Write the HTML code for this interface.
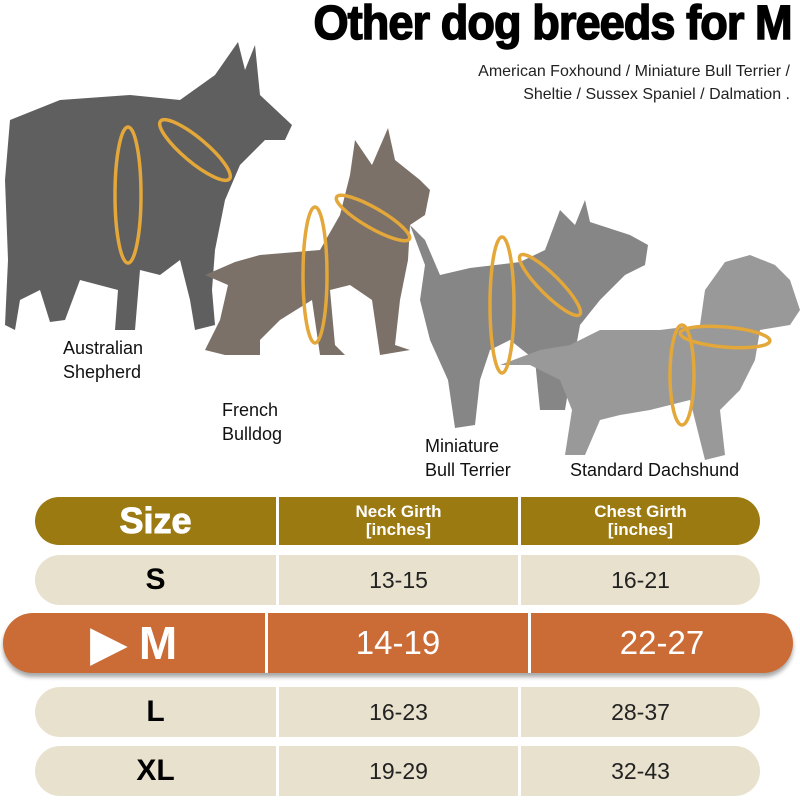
<!DOCTYPE html>
<html><head><meta charset="utf-8"><style>
body{margin:0;width:800px;height:800px;background:#fff;overflow:hidden;position:relative;font-family:"Liberation Sans",sans-serif}
.t{position:absolute;white-space:nowrap}
.row{position:absolute;display:flex;border-radius:26px;overflow:hidden}
.row div{display:flex;align-items:center;justify-content:center;text-align:center}
</style></head><body>
<svg width="800" height="490" style="position:absolute;left:0;top:0">
<polygon fill="#5f5f5f" points="10,120 60,100 130,95 180,100 215,75 238,42 245,70 255,45 260,95 292,125 285,140 265,140 255,150 240,165 225,200 215,250 212,290 215,325 195,330 190,300 180,260 160,275 140,270 135,330 115,330 118,290 80,280 65,320 50,322 40,290 20,300 15,330 5,325 8,260 5,180"/>
<polygon fill="#7b7168" points="205,275 235,262 260,255 320,250 340,215 350,175 355,140 372,165 388,128 395,160 420,180 430,190 425,215 410,225 408,260 400,300 395,345 410,350 380,355 372,300 350,285 330,290 335,345 345,355 320,355 312,300 280,320 260,340 260,355 225,355 205,350 220,320 228,285"/>
<polygon fill="#868686" points="410,225 425,240 440,275 470,268 520,262 545,250 560,210 575,225 585,200 590,222 630,235 648,245 645,265 625,275 600,300 580,325 570,380 565,410 540,410 535,360 510,340 490,350 480,380 475,425 455,428 448,380 430,340 420,300 425,265"/>
<polygon fill="#999" points="500,365 540,350 570,345 600,330 660,330 700,325 705,290 725,262 750,255 775,265 790,280 800,310 790,325 760,330 755,360 740,390 720,410 725,455 705,460 690,400 650,410 620,415 600,420 585,455 565,455 572,410 560,380 530,365"/>
<g fill="none" stroke="#e3a73a" stroke-width="3.5">
<ellipse cx="128" cy="195" rx="13" ry="68"/>
<ellipse cx="195" cy="150" rx="45" ry="12" transform="rotate(40 195 150)"/>
<ellipse cx="315" cy="275" rx="12" ry="68"/>
<ellipse cx="373" cy="218" rx="42" ry="10" transform="rotate(30 373 218)"/>
<ellipse cx="502" cy="305" rx="12" ry="68"/>
<ellipse cx="550" cy="285" rx="42" ry="10" transform="rotate(45 550 285)"/>
<ellipse cx="682" cy="375" rx="12" ry="50"/>
<ellipse cx="725" cy="337" rx="45" ry="10" transform="rotate(5 725 337)"/>
</g>
</svg>
<div class="t" style="right:8px;top:-4px;font-size:48px;font-weight:bold;letter-spacing:-1px;transform:scaleX(0.94);transform-origin:right;-webkit-text-stroke:1.5px #000">Other dog breeds for M</div>
<div class="t" style="right:10px;top:60px;font-size:16px;color:#222;text-align:right;line-height:23px">American Foxhound / Miniature Bull Terrier /<br>Sheltie / Sussex Spaniel / Dalmation .</div>
<div class="t" style="left:63px;top:336px;font-size:18px;line-height:24px;color:#111">Australian<br>Shepherd</div>
<div class="t" style="left:222px;top:398px;font-size:18px;line-height:24px;color:#111">French<br>Bulldog</div>
<div class="t" style="left:425px;top:434px;font-size:18px;line-height:24px;color:#111">Miniature<br>Bull Terrier</div>
<div class="t" style="left:570px;top:460px;font-size:18px;color:#111">Standard Dachshund</div>

<div class="row" style="left:35px;top:497px;width:725px;height:48px;background:#9b7a12;color:#fff;font-weight:bold">
<div style="width:241px;font-size:36px;border-right:3px solid #fff;-webkit-text-stroke:1px #fff">Size</div>
<div style="width:239px;font-size:17px;line-height:18px;border-right:3px solid #fff">Neck Girth<br>[inches]</div>
<div style="flex:1;font-size:17px;line-height:18px">Chest Girth<br>[inches]</div></div>

<div class="row" style="left:35px;top:555px;width:725px;height:50px;background:#e8e1cd;font-size:23px;color:#222">
<div style="width:241px;font-size:30px;font-weight:bold;color:#000;border-right:3px solid #fff">S</div>
<div style="width:239px;border-right:3px solid #fff">13-15</div>
<div style="flex:1">16-21</div></div>

<div class="row" style="left:3px;top:613px;width:790px;height:60px;border-radius:30px;background:#cb6c36;color:#fff;font-size:33px;box-shadow:0 4px 4px rgba(0,0,0,0.35)">
<div style="width:262px;font-size:46px;font-weight:bold;border-right:3px solid #fff">▶ M</div>
<div style="width:260px;border-right:3px solid #fff">14-19</div>
<div style="flex:1">22-27</div></div>

<div class="row" style="left:35px;top:687px;width:725px;height:50px;background:#e8e1cd;font-size:23px;color:#222">
<div style="width:241px;font-size:30px;font-weight:bold;color:#000;border-right:3px solid #fff">L</div>
<div style="width:239px;border-right:3px solid #fff">16-23</div>
<div style="flex:1">28-37</div></div>

<div class="row" style="left:35px;top:746px;width:725px;height:50px;background:#e8e1cd;font-size:23px;color:#222">
<div style="width:241px;font-size:30px;font-weight:bold;color:#000;border-right:3px solid #fff">XL</div>
<div style="width:239px;border-right:3px solid #fff">19-29</div>
<div style="flex:1">32-43</div></div>
</body></html>
